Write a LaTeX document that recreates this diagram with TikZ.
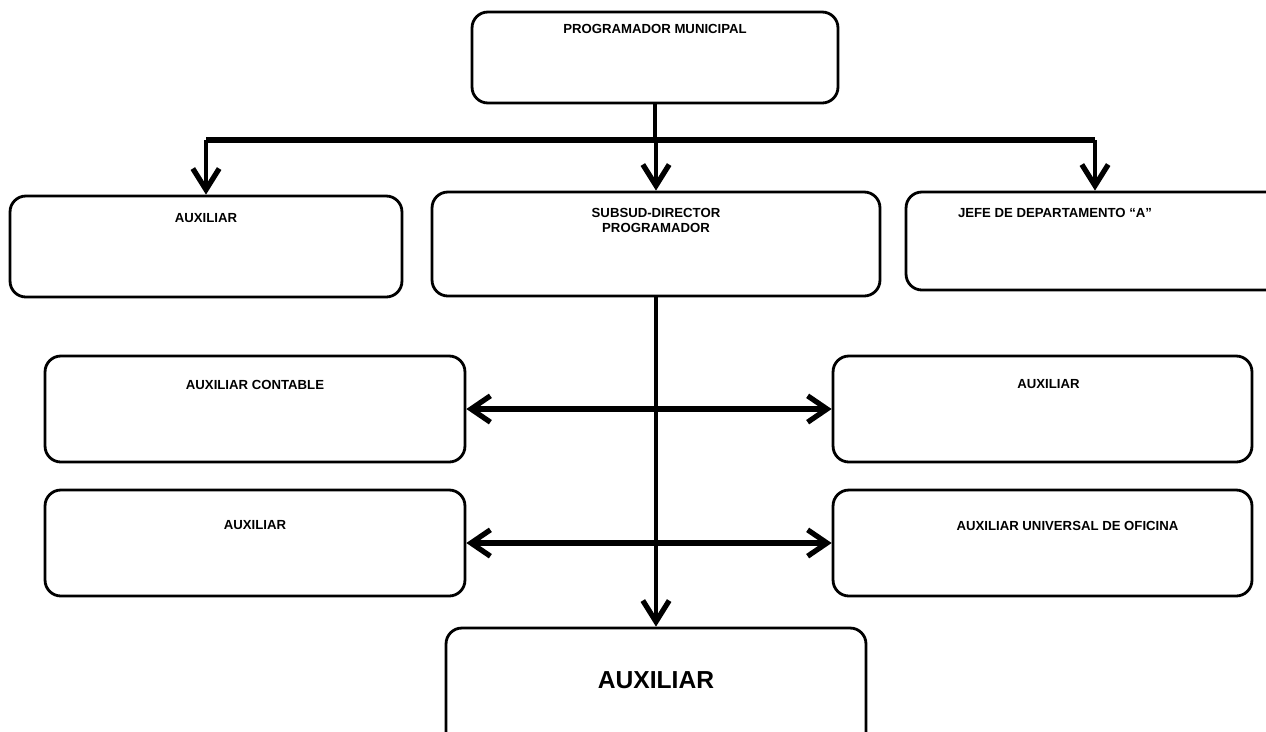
\documentclass[tikz,border=0pt]{standalone}
\usepackage{fontspec}
\setmainfont{Liberation Sans}
\usetikzlibrary{arrows.meta, positioning, calc}

\begin{document}
\begin{tikzpicture}[x=0.02cm, y=-0.02cm,
    box/.style={rectangle, rounded corners=9pt, draw=black, line width=1.6pt, inner sep=0pt},
    ttl/.style={anchor=north, font=\bfseries\fontsize{7.5}{9}\selectfont, align=center},
    tip/.style={Straight Barb[length=12pt, width=15pt, line width=3pt]},
    arr/.style={-{Straight Barb[length=12pt, width=15pt, line width=3pt]}, line width=2.8pt},
    dbl/.style={{Straight Barb[length=11pt, width=15pt, line width=3pt]}-{Straight Barb[length=11pt, width=15pt, line width=3pt]}, line width=3.8pt}
]
\useasboundingbox (0,0) rectangle (1266,731);

% boxes
\node[box, minimum width=7.32cm, minimum height=1.82cm,
      label={[ttl, yshift=-0.14cm]north:PROGRAMADOR MUNICIPAL}] (pm) at (655,57.5) {};
\node[box, minimum width=7.84cm, minimum height=2.02cm,
      label={[ttl, yshift=-0.26cm]north:AUXILIAR}] (aux) at (206,246.5) {};
\node[box, minimum width=8.96cm, minimum height=2.08cm,
      label={[ttl, yshift=-0.22cm]north:SUBSUD-DIRECTOR\\PROGRAMADOR}] (sub) at (656,244) {};
\node[box, minimum width=7.56cm, minimum height=1.96cm,
      label={[ttl, xshift=-0.8cm, yshift=-0.22cm]north:JEFE DE DEPARTAMENTO ``A''}] (jefe) at (1095,241) {};
\node[box, minimum width=8.4cm, minimum height=2.12cm,
      label={[ttl, yshift=-0.38cm]north:AUXILIAR CONTABLE}] (cont) at (255,409) {};
\node[box, minimum width=8.38cm, minimum height=2.12cm,
      label={[ttl, xshift=0.12cm, yshift=-0.38cm]north:AUXILIAR}] (auxr) at (1042.5,409) {};
\node[box, minimum width=8.4cm, minimum height=2.12cm,
      label={[ttl, yshift=-0.52cm]north:AUXILIAR}] (auxl) at (255,543) {};
\node[box, minimum width=8.38cm, minimum height=2.12cm,
      label={[ttl, xshift=0.5cm, yshift=-0.52cm]north:AUXILIAR UNIVERSAL DE OFICINA}] (univ) at (1042.5,543) {};
\node[box, minimum width=8.4cm, minimum height=2.5cm,
      label={[anchor=north, font=\bfseries\fontsize{14}{16}\selectfont, yshift=-0.78cm]north:AUXILIAR}] (fin) at (656,690.5) {};

% connectors
\coordinate (bus) at (655,140);
\draw[line width=2.8pt] (pm.south) -- (bus);
\draw[line width=3.8pt] (aux.north |- bus) -- (jefe.north |- bus);
\foreach \t in {aux, sub, jefe}
    \draw[arr] (\t.north |- bus) -- (\t.north);
\draw[arr] (sub.south) -- (fin.north);
\draw[dbl] (cont.east) -- (auxr.west);
\draw[dbl] (auxl.east) -- (univ.west);
\end{tikzpicture}
\end{document}
